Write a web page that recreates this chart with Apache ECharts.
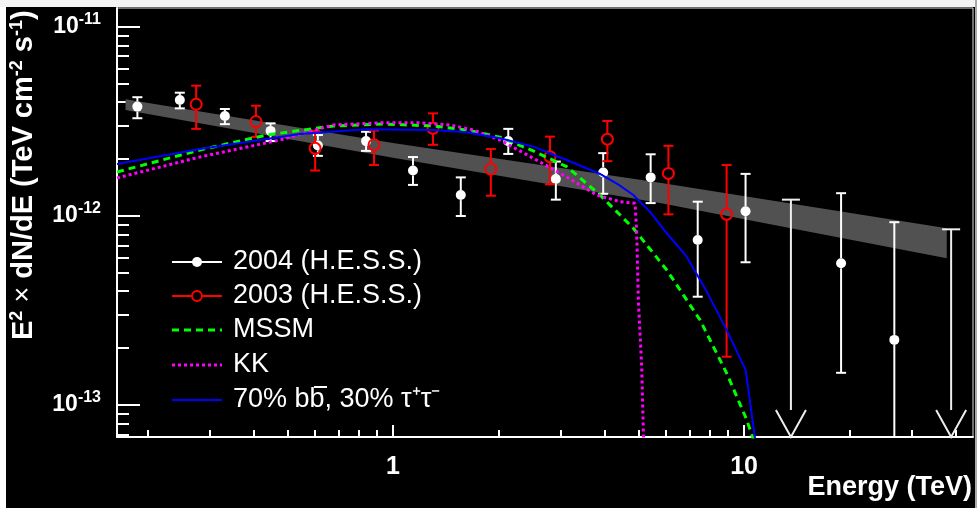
<!DOCTYPE html>
<html>
<head>
<meta charset="utf-8">
<script src="https://cdn.jsdelivr.net/npm/echarts@6/dist/echarts.min.js"></script>
<style>
  html, body { margin: 0; padding: 0; background: #000; }
  #main { width: 977px; height: 508px; }
</style>
</head>
<body>
<div id="main"></div>
<script>
// 2004 H.E.S.S. points (energy in TeV, E^2 dN/dE in TeV cm^-2 s^-1)
const hessE04 = [0.187, 0.247, 0.332, 0.448, 0.611, 0.838, 1.14, 1.56, 2.13, 2.91, 3.97, 5.42, 7.38, 10.1, 18.9, 26.8];
const hessF04 = [3.79e-12, 4.11e-12, 3.38e-12, 2.82e-12, 2.36e-12, 2.49e-12, 1.74e-12, 1.29e-12, 2.49e-12, 1.57e-12, 1.70e-12, 1.60e-12, 7.46e-13, 1.06e-12, 5.62e-13, 2.21e-13];
const hessLo04 = [3.29e-12, 3.71e-12, 3.06e-12, 2.49e-12, 2.08e-12, 2.21e-12, 1.46e-12, 1.00e-12, 2.13e-12, 1.22e-12, 1.31e-12, 1.17e-12, 3.74e-13, 5.69e-13, 1.48e-13, 5.0e-14];
const hessHi04 = [4.25e-12, 4.49e-12, 3.68e-12, 3.09e-12, 2.68e-12, 2.79e-12, 2.05e-12, 1.60e-12, 2.89e-12, 1.94e-12, 2.15e-12, 2.12e-12, 1.19e-12, 1.67e-12, 1.32e-12, 9.27e-13];
// 2004 upper limits
const ulE04 = [13.6, 38.9];
const ulF04 = [1.22e-12, 8.5e-13];

// 2003 H.E.S.S. points
const hessE03 = [0.275, 0.407, 0.600, 0.883, 1.30, 1.90, 2.80, 4.08, 6.09, 8.92];
const hessF03 = [3.90e-12, 3.16e-12, 2.28e-12, 2.38e-12, 2.91e-12, 1.77e-12, 2.06e-12, 2.55e-12, 1.68e-12, 1.02e-12];
const hessLo03 = [2.89e-12, 2.62e-12, 1.74e-12, 1.86e-12, 2.38e-12, 1.28e-12, 1.47e-12, 1.95e-12, 1.02e-12, 1.80e-13];
const hessHi03 = [4.89e-12, 3.83e-12, 2.82e-12, 2.83e-12, 3.49e-12, 2.26e-12, 2.63e-12, 3.18e-12, 2.35e-12, 1.86e-12];

// power-law fit band
const bandE = [0.173, 1.0, 5.76, 37.8];
const bandLo = [3.64e-12, 2.03e-12, 1.17e-12, 5.97e-13];
const bandHi = [4.14e-12, 2.43e-12, 1.50e-12, 8.6e-13];

// model curves
const mssmE = [0.1636, 0.2819, 0.4366, 0.676, 0.9384, 1.302, 1.622, 2.018, 2.51, 3.124, 3.889, 4.838, 6.024, 7.49, 8.928, 10.18, 10.8];
const mssmF = [1.709e-12, 2.235e-12, 2.683e-12, 2.994e-12, 3.068e-12, 2.994e-12, 2.851e-12, 2.609e-12, 2.208e-12, 1.824e-12, 1.291e-12, 8.61e-13, 5.18e-13, 2.82e-13, 1.47e-13, 8.34e-14, 6.0e-14];
const kkE = [0.1636, 0.2819, 0.4764, 0.676, 0.9384, 1.168, 1.453, 1.693, 2.018, 2.51, 3.124, 3.804, 4.434, 4.893, 4.947, 5.0, 5.11, 5.18];
const kkF = [1.589e-12, 2.052e-12, 2.523e-12, 3.031e-12, 3.117e-12, 3.117e-12, 3.031e-12, 2.851e-12, 2.523e-12, 2.02e-12, 1.608e-12, 1.291e-12, 1.19e-12, 1.167e-12, 8.1e-13, 3.59e-13, 1.595e-13, 6.0e-14];
const bbE = [0.1636, 0.2819, 0.543, 0.8414, 1.302, 1.622, 2.018, 2.51, 3.124, 3.889, 4.4, 4.838, 5.4, 6.024, 6.866, 7.83, 8.928, 10.11, 10.9];
const bbF = [1.884e-12, 2.262e-12, 2.716e-12, 2.874e-12, 2.851e-12, 2.773e-12, 2.578e-12, 2.327e-12, 1.978e-12, 1.668e-12, 1.46e-12, 1.291e-12, 1.05e-12, 8.1e-13, 6.09e-13, 3.98e-13, 2.49e-13, 1.53e-13, 5.5e-14];

// axis ranges and ticks
const xRange = [0.1636, 44.9];
const yRange = [6.77e-14, 1.26e-11];
const xMajor = [1, 10];
const xMinor = [0.2, 0.3, 0.4, 0.5, 0.6, 0.7, 0.8, 0.9, 2, 3, 4, 5, 6, 7, 8, 9, 20, 30, 40];
const yMajor = [1e-13, 1e-12, 1e-11];
const yMinor = [7e-14, 8e-14, 9e-14, 2e-13, 3e-13, 4e-13, 5e-13, 6e-13, 7e-13, 8e-13, 9e-13,
  2e-12, 3e-12, 4e-12, 5e-12, 6e-12, 7e-12, 8e-12, 9e-12];

const L = Math.log10;
const pairs = (xs, ys) => xs.map((x, i) => [L(x), L(ys[i])]);
const font = "Liberation Sans, Arial, sans-serif";

const chart = echarts.init(document.getElementById("main"));

const pointRenderer = (color, filled) => (params, api) => {
  const x = api.value(0);
  const c = api.coord([x, api.value(1)]);
  const lo = api.coord([x, api.value(2)]);
  const hi = api.coord([x, api.value(3)]);
  const bottom = params.coordSys.y + params.coordSys.height;
  const r = filled ? 5 : 5.5;
  const st = () => ({ stroke: color, lineWidth: 2 });
  const yLo = Math.min(lo[1], bottom);
  const children = [
    { type: "line", shape: { x1: c[0], y1: hi[1], x2: c[0], y2: c[1] - r }, style: st() },
    { type: "line", shape: { x1: c[0], y1: c[1] + r, x2: c[0], y2: yLo }, style: st() },
    { type: "line", shape: { x1: c[0] - 5, y1: hi[1], x2: c[0] + 5, y2: hi[1] }, style: st() },
  ];
  if (lo[1] < bottom) {
    children.push({ type: "line", shape: { x1: c[0] - 5, y1: lo[1], x2: c[0] + 5, y2: lo[1] }, style: st() });
  }
  children.push({
    type: "circle",
    shape: { cx: c[0], cy: c[1], r: r },
    style: filled ? { fill: color } : { fill: null, stroke: color, lineWidth: 2 },
  });
  return { type: "group", children };
};

const limitRenderer = (params, api) => {
  const c = api.coord([api.value(0), api.value(1)]);
  const bottom = params.coordSys.y + params.coordSys.height;
  const st = () => ({ stroke: "#eee", lineWidth: 2 });
  return {
    type: "group",
    children: [
      { type: "line", shape: { x1: c[0] - 9, y1: c[1], x2: c[0] + 9, y2: c[1] }, style: st() },
      { type: "line", shape: { x1: c[0], y1: c[1], x2: c[0], y2: bottom }, style: st() },
      { type: "polyline", shape: { points: [[c[0] - 15, bottom - 27], [c[0], bottom], [c[0] + 15, bottom - 27]] }, style: st() },
    ],
  };
};

const bandRenderer = (params, api) => {
  if (params.dataIndex !== 0) return null;
  const pts = [];
  bandE.forEach((e, i) => pts.push(api.coord([L(e), L(bandHi[i])])));
  for (let i = bandE.length - 1; i >= 0; i--) pts.push(api.coord([L(bandE[i]), L(bandLo[i])]));
  return { type: "polygon", shape: { points: pts }, style: { fill: "#515151" } };
};

const tickAxis = (extra) => ({
  type: "value",
  splitLine: { show: false },
  axisLine: { show: false, onZero: false },
  axisLabel: { show: false },
  ...extra,
});

const legendRows = [262, 296, 330, 365, 400];
const legendText = ["2004 (H.E.S.S.)", "2003 (H.E.S.S.)", "MSSM", "KK", "70% bb, 30% \u03c4\u207a\u03c4\u207b"];
const legendGraphics = [
  { type: "line", shape: { x1: 172, y1: legendRows[0], x2: 222, y2: legendRows[0] }, style: { stroke: "#fff", lineWidth: 2 } },
  { type: "circle", shape: { cx: 197, cy: legendRows[0], r: 5 }, style: { fill: "#fff" } },
  { type: "line", shape: { x1: 172, y1: legendRows[1], x2: 222, y2: legendRows[1] }, style: { stroke: "#f00", lineWidth: 2 } },
  { type: "circle", shape: { cx: 197, cy: legendRows[1], r: 5 }, style: { fill: "#000", stroke: "#f00", lineWidth: 2 } },
  { type: "line", shape: { x1: 172, y1: legendRows[2], x2: 222, y2: legendRows[2] }, style: { stroke: "#00ff00", lineWidth: 3, lineDash: [7, 5] } },
  { type: "line", shape: { x1: 172, y1: legendRows[3], x2: 222, y2: legendRows[3] }, style: { stroke: "#ff00ff", lineWidth: 3, lineDash: [3, 3] } },
  { type: "line", shape: { x1: 172, y1: legendRows[4], x2: 222, y2: legendRows[4] }, style: { stroke: "#0000ff", lineWidth: 2 } },
  // bar over the second b of "b b-bar"
  { type: "line", shape: { x1: 314, y1: 387, x2: 327, y2: 387 }, style: { stroke: "#fff", lineWidth: 2 } },
];
legendText.forEach((t, i) => {
  legendGraphics.push({
    type: "text",
    x: 233,
    y: legendRows[i],
    style: { text: t, fill: "#fff", font: "27px " + font, verticalAlign: "middle" },
  });
});

chart.setOption({
  backgroundColor: "#000",
  animation: false,
  grid: { left: 117, right: 4, top: 8, bottom: 71, show: true, borderColor: "#ddd", borderWidth: 1 },
  xAxis: [
    {
      type: "value",
      min: L(xRange[0]),
      max: L(xRange[1]),
      splitLine: { show: false },
      axisLine: { onZero: false, lineStyle: { color: "#fff", width: 2 } },
      axisTick: { inside: true, length: 12, customValues: xMajor.map(L), lineStyle: { color: "#fff", width: 2 } },
      axisLabel: {
        customValues: xMajor.map(L),
        formatter: (v) => String(Math.round(Math.pow(10, v))),
        color: "#fff",
        fontSize: 25,
        fontWeight: "bold",
        fontFamily: font,
        margin: 18,
      },
    },
    tickAxis({
      min: L(xRange[0]),
      max: L(xRange[1]),
      position: "bottom",
      axisTick: { inside: true, length: 7, customValues: xMinor.map(L), lineStyle: { color: "#fff", width: 2 } },
    }),
  ],
  yAxis: [
    {
      type: "value",
      position: "left",
      min: L(yRange[0]),
      max: L(yRange[1]),
      splitLine: { show: false },
      axisLine: { onZero: false, lineStyle: { color: "#fff", width: 2 } },
      axisTick: { inside: true, length: 23, customValues: yMajor.map(L), lineStyle: { color: "#fff", width: 2 } },
      axisLabel: {
        customValues: yMajor.map(L),
        formatter: (v) => "{b|10}{sup|" + Math.round(v) + "}",
        margin: 16,
        rich: {
          b: { color: "#fff", fontSize: 23, fontWeight: "bold", fontFamily: font },
          sup: { color: "#fff", fontSize: 16, fontWeight: "bold", fontFamily: font, padding: [0, 0, 14, 0] },
        },
      },
    },
    tickAxis({
      min: L(yRange[0]),
      max: L(yRange[1]),
      position: "left",
      axisTick: { inside: true, length: 12, customValues: yMinor.map(L), lineStyle: { color: "#fff", width: 2 } },
    }),
  ],
  graphic: [
    { type: "rect", shape: { x: 0, y: 0, width: 6, height: 508 }, style: { fill: "#fff" }, z: 100 },
    { type: "rect", shape: { x: 0, y: 0, width: 977, height: 7 }, style: { fill: "#f4f4f4" }, z: 100 },
    { type: "rect", shape: { x: 975, y: 0, width: 2, height: 508 }, style: { fill: "#aaa" }, z: 100 },
    {
      type: "text",
      x: 972,
      y: 488,
      style: { text: "Energy (TeV)", fill: "#fff", font: "bold 27px " + font, align: "right", verticalAlign: "middle" },
    },
    {
      type: "text",
      x: 24,
      y: 340,
      rotation: Math.PI / 2,
      style: {
        text: "E{sup|2} {x|\u00d7} dN/dE (TeV cm{sup|-2} s{sup|-1})",
        fill: "#fff",
        font: "bold 29px " + font,
        align: "left",
        verticalAlign: "middle",
        rich: {
          sup: { fontSize: 18, fontWeight: "bold", fill: "#fff", fontFamily: font, padding: [0, 0, 14, 0] },
          x: { fontSize: 27, fontWeight: "normal", fill: "#fff", fontFamily: font },
        },
      },
    },
    ...legendGraphics,
  ],
  series: [
    {
      type: "custom",
      renderItem: bandRenderer,
      data: bandE.map((e, i) => [L(e), L(bandLo[i]), L(bandHi[i])]),
      z: 1,
    },
    {
      type: "custom",
      name: "2004 (H.E.S.S.)",
      renderItem: pointRenderer("#fff", true),
      data: hessE04.map((e, i) => [L(e), L(hessF04[i]), L(hessLo04[i]), L(hessHi04[i])]),
      z: 2,
    },
    {
      type: "custom",
      renderItem: limitRenderer,
      data: pairs(ulE04, ulF04),
      z: 2,
    },
    {
      type: "custom",
      name: "2003 (H.E.S.S.)",
      renderItem: pointRenderer("#ff0000", false),
      data: hessE03.map((e, i) => [L(e), L(hessF03[i]), L(hessLo03[i]), L(hessHi03[i])]),
      z: 3,
    },
    {
      type: "line",
      name: "MSSM",
      data: pairs(mssmE, mssmF),
      showSymbol: false,
      symbol: "none",
      lineStyle: { color: "#00ff00", width: 3, type: [7, 5] },
      z: 4,
    },
    {
      type: "line",
      name: "KK",
      data: pairs(kkE, kkF),
      showSymbol: false,
      symbol: "none",
      lineStyle: { color: "#ff00ff", width: 3, type: [3, 3] },
      z: 5,
    },
    {
      type: "line",
      name: "70% bb, 30% tau tau",
      data: pairs(bbE, bbF),
      showSymbol: false,
      symbol: "none",
      lineStyle: { color: "#0000ff", width: 2 },
      z: 6,
    },
  ],
});
</script>
</body>
</html>
